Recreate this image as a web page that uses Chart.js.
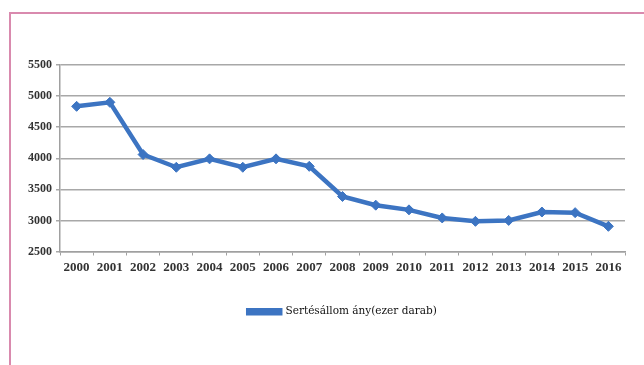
<!DOCTYPE html>
<html>
<head>
<meta charset="utf-8">
<script src="https://cdn.jsdelivr.net/npm/chart.js@4"></script>
<style>
  html, body { margin: 0; padding: 0; background: #fff; }
  #wrap { position: relative; width: 644px; height: 365px; overflow: hidden; }
  #frame {
    position: absolute; left: 9px; top: 12px; right: -5px; bottom: -5px;
    border-top: 2px solid #d98aae; border-left: 2px solid #d98aae;
  }
  canvas { position: absolute; left: 0; top: 0; }
</style>
</head>
<body>
<div id="wrap">
  <div id="frame"></div>
  <canvas id="chart" width="644" height="365"></canvas>
</div>
<script>
// évek és sertésállomány (ezer darab)
const years = ['2000', '2001', '2002', '2003', '2004', '2005', '2006', '2007', '2008',
               '2009', '2010', '2011', '2012', '2013', '2014', '2015', '2016'];
const pigStock = [4835, 4900, 4060, 3855, 3990, 3855, 3990, 3870, 3385,
                  3245, 3170, 3040, 2985, 3000, 3135, 3125, 2905];
const seriesLabel = 'Sertésállom ány(ezer darab)';
const yTicks = [2500, 3000, 3500, 4000, 4500, 5000, 5500];

const blue = '#3c74c2';
const tickFont = { family: "'Liberation Serif', serif", size: 13, weight: 'bold' };

new Chart(document.getElementById('chart'), {
    type: 'line',
    data: {
        labels: years,
        datasets: [{
            label: seriesLabel,
            data: pigStock,
            borderColor: blue,
            backgroundColor: blue,
            borderWidth: 4.5,
            pointStyle: 'rectRot',
            pointRadius: 5,
            pointBorderWidth: 1,
            pointBackgroundColor: blue,
            pointBorderColor: blue,
            tension: 0
        }]
    },
    options: {
        responsive: false,
        animation: false,
        layout: { padding: { left: 0, right: 19, top: 65, bottom: 38 } },
        plugins: {
            tooltip: { enabled: false },
            legend: {
                position: 'bottom',
                fullSize: false,
                labels: {
                    boxWidth: 32,
                    boxHeight: 3,
                    padding: 10,
                    color: '#111',
                    font: { family: "'DejaVu Serif', serif", size: 10.5 }
                }
            }
        },
        scales: {
            x: {
                offset: true,
                afterFit: (scale) => { scale.height = 45; },
                grid: {
                    offset: true,
                    drawOnChartArea: false,
                    drawTicks: true,
                    tickLength: 4,
                    color: '#a0a0a0'
                },
                border: { color: '#a0a0a0', width: 1.5 },
                ticks: {
                    color: '#333',
                    font: tickFont,
                    padding: 4,
                    maxRotation: 0,
                    autoSkip: false
                }
            },
            y: {
                min: 2500,
                max: 5500,
                afterFit: (scale) => { scale.width = 60; },
                afterBuildTicks: (scale) => { scale.ticks = yTicks.map(v => ({ value: v })); },
                grid: {
                    color: '#a8a8a8',
                    lineWidth: 1.5,
                    tickLength: 4
                },
                border: { color: '#a0a0a0', width: 1.5 },
                ticks: {
                    color: '#333',
                    font: { family: "'Liberation Serif', serif", size: 12, weight: 'bold' },
                    padding: 4,
                    callback: (v) => String(v)
                }
            }
        }
    }
});
</script>
</body>
</html>
